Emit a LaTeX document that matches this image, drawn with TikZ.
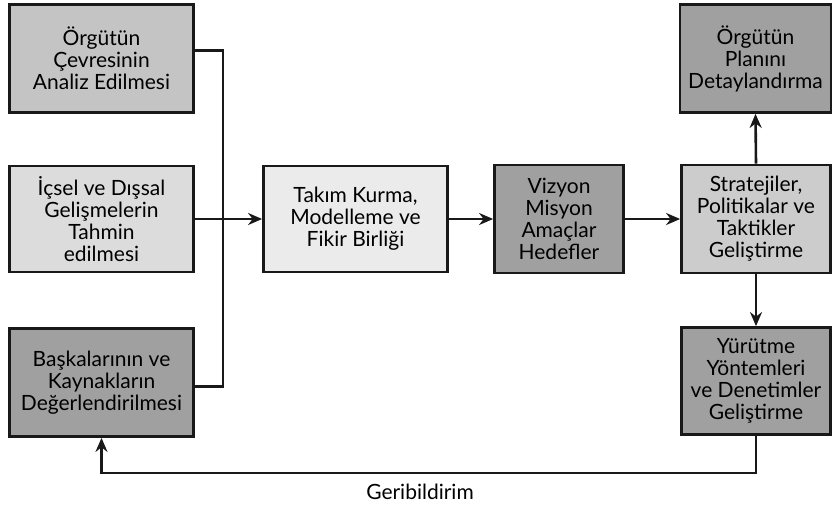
\documentclass[tikz,border=0pt]{standalone}
\usepackage{fontspec}
\setmainfont{Lato}
\usetikzlibrary{arrows.meta}
\definecolor{gA}{HTML}{C4C4C4}
\definecolor{gB}{HTML}{DCDCDC}
\definecolor{gC}{HTML}{EBEBEB}
\definecolor{gD}{HTML}{CCCCCC}
\definecolor{gE}{HTML}{A0A0A0}
\begin{document}
\begin{tikzpicture}[x=1pt,y=1pt,
  box/.style={draw=black!90, line width=2.8pt, align=center, inner sep=0pt,
    font=\fontsize{21}{22}\selectfont, text=black},
  conn/.style={line width=2.6pt, black!90},
  arr/.style={conn, -{Stealth[length=14pt,width=12pt]}}]
\useasboundingbox (0,0) rectangle (833,-507);
\node[box, fill=gA, minimum width=184, minimum height=108] (b1) at (101.5,-58.5) {Örgütün\\Çevresinin\\Analiz Edilmesi};
\node[box, fill=gB, minimum width=184, minimum height=106] (b2) at (101.5,-219) {İçsel ve Dışsal\\Gelişmelerin\\Tahmin\\edilmesi};
\node[box, fill=gE, minimum width=184, minimum height=108] (b3) at (101.5,-382.5) {Başkalarının ve\\Kaynakların\\Değerlendirilmesi};
\node[box, fill=gC, minimum width=184, minimum height=106] (tk) at (355.5,-219) {Takım Kurma,\\Modelleme ve\\Fikir Birliği};
\node[box, fill=gE, minimum width=129, minimum height=108] (vz) at (559,-219) {Vizyon\\Misyon\\Amaçlar\\Hedefler};
\node[box, fill=gD, minimum width=149, minimum height=108] (st) at (756,-219) {Stratejiler,\\Politikalar ve\\Taktikler\\Geliştirme};
\node[box, fill=gE, minimum width=151, minimum height=108] (pl) at (755.5,-58.5) {Örgütün\\Planını\\Detaylandırma};
\node[box, fill=gE, minimum width=149, minimum height=107] (yr) at (756,-381) {Yürütme\\Yöntemleri\\ve Denetimler\\Geliştirme};
\coordinate (j) at (223,-219);
\coordinate (fb) at (756,-473);
\draw[conn] ([yshift=8]b1.east) -| (j);
\draw[conn] ([yshift=-4]b3.east) -| (j);
\draw[arr] (b2.east) -- (tk.west);
\draw[arr] (tk.east) -- (vz.west);
\draw[arr] (vz.east) -- (st.west);
\draw[arr] (st.north) -- (pl.south);
\draw[arr] (st.south) -- (yr.north);
\draw[arr] (yr.south) -- (fb) -| (b3.south);
\node[font=\fontsize{21}{22}\selectfont, text=black] (gb) at (420,-492) {Geribildirim};
\end{tikzpicture}
\end{document}
